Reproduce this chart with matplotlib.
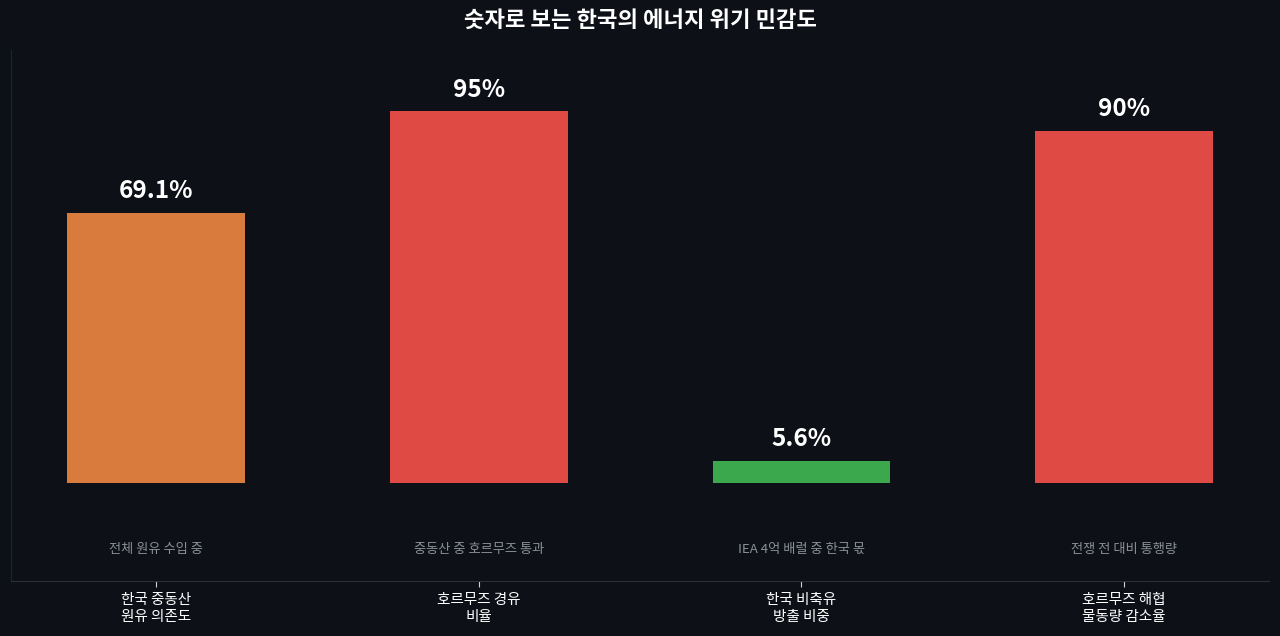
import matplotlib
matplotlib.use('Agg')
import matplotlib.pyplot as plt

plt.rcParams['font.family'] = ['Noto Sans CJK KR', 'DejaVu Sans']

# data
categories = ['한국 중동산\n원유 의존도', '호르무즈 경유\n비율', '한국 비축유\n방출 비중', '호르무즈 해협\n물동량 감소율']
values = [69.1, 95, 5.6, 90]
value_labels = ['69.1%', '95%', '5.6%', '90%']
notes = ['전체 원유 수입 중', '중동산 중 호르무즈 통과', 'IEA 4억 배럴 중 한국 몫', '전쟁 전 대비 통행량']
colors = ['#D97B3C', '#E04A44', '#3BA84E', '#E04A44']

bg = '#0d1017'
fig = plt.figure(figsize=(12.8, 6.36), dpi=100, facecolor=bg)
ax = fig.add_axes([0.0086, 0.0865, 0.983, 0.8345])
ax.set_facecolor(bg)

x = range(len(values))
ax.bar(x, values, width=0.55, color=colors)

for i, v in enumerate(values):
    ax.text(i, v + 2.5, value_labels[i], ha='center', va='bottom',
            color='white', fontsize=17.5, fontweight='bold')
    ax.text(i, -17, notes[i], ha='center', va='center', color='#8b8f99', fontsize=9.5)

ax.set_xlim(-0.45, 3.45)
ax.set_ylim(-25, 110.6)
ax.set_xticks(list(x))
ax.set_xticklabels(categories, color='white', fontsize=10.5, linespacing=1.25)
ax.set_yticks([])
ax.tick_params(axis='x', colors='#cfd2d8', length=4, pad=5, labelcolor='white')

for s in ['top', 'right']:
    ax.spines[s].set_visible(False)
ax.spines['left'].set_color('#1e2330')
ax.spines['bottom'].set_color('#2a2f3a')

fig.text(0.5, 0.968, '숫자로 보는 한국의 에너지 위기 민감도', ha='center', va='center',
         color='white', fontsize=16, fontweight='bold')

fig.savefig('out.png', facecolor=bg)
